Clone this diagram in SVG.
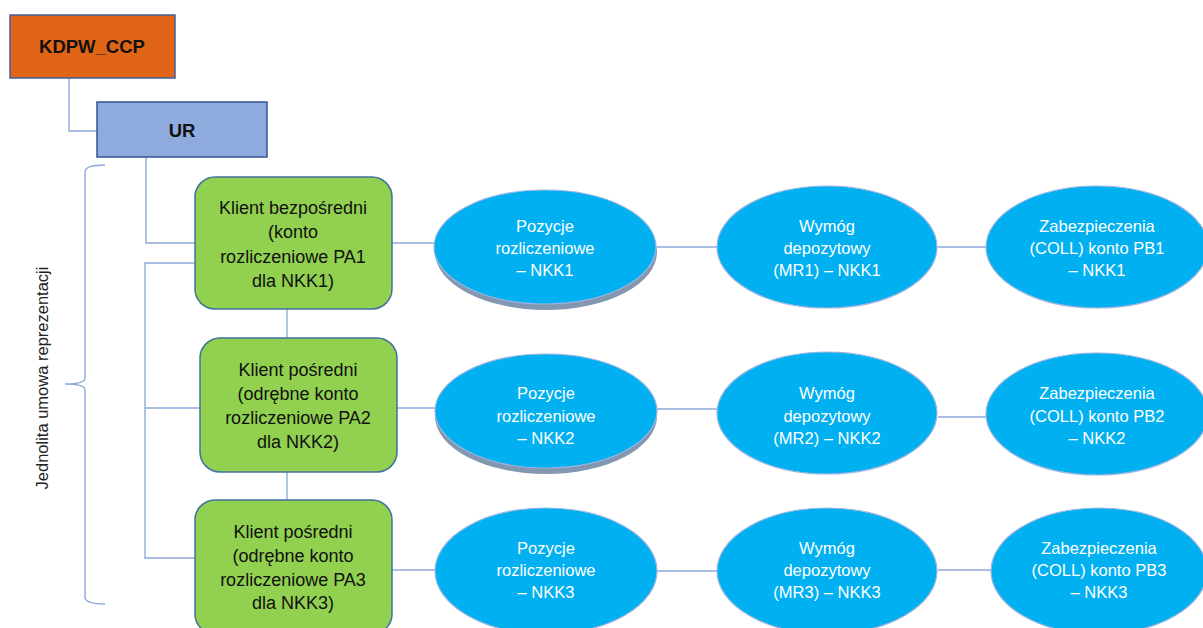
<svg xmlns="http://www.w3.org/2000/svg" width="1203" height="628" viewBox="0 0 1203 628">
<defs>
<style>
.conn{fill:none;stroke:#8FA9DC;stroke-width:1.4}
.rect-top{stroke:#41609A;stroke-width:1.5}
.green{fill:#92D050;stroke:#41719C;stroke-width:1.5}
.ell{fill:#00B0F0;stroke:#9DB4E0;stroke-width:1.2}
.shadow{fill:#8497B0}
.t{font-family:"Liberation Sans",Arial,sans-serif;text-anchor:middle}
.bold{font-weight:bold;font-size:18.5px;fill:#111}
.gt{font-size:18px;fill:#111}
.wt{font-size:16.5px;fill:#fff}
</style>
</defs>
<rect width="1203" height="628" fill="#fff"/>
<g id="connectors">
<path class="conn" d="M69 78 V131 H97"/>
<path class="conn" d="M146 157 V243 H195"/>
<path class="conn" d="M195 263 H145 V558 H195"/>
<path class="conn" d="M145 408 H200"/>
<path class="conn" d="M287 309 V338"/>
<path class="conn" d="M287 472 V500"/>
<path class="conn" d="M392 243 H434"/>
<path class="conn" d="M657 247 H717"/>
<path class="conn" d="M938 247 H986"/>
<path class="conn" d="M397 408 H435"/>
<path class="conn" d="M657 409 H717"/>
<path class="conn" d="M938 417 H986"/>
<path class="conn" d="M392 570 H435"/>
<path class="conn" d="M657 571 H717"/>
<path class="conn" d="M938 570 H991"/>
</g>
<g id="brace">
<path class="conn" d="M105 165 Q85 165 85 172 V378 Q85 384 65 384 Q85 384 85 390 V597 Q85 604 105 604"/>
<text class="t" font-size="16.5" fill="#222" transform="translate(48 378) rotate(-90)">Jednolita umowa reprezentacji</text>
</g>
<g id="kdpw">
<rect class="rect-top" x="10" y="15" width="165" height="63" fill="#E06516"/>
<text class="t bold" x="92" y="53">KDPW_CCP</text>
</g>
<g id="ur">
<rect x="97" y="102" width="170" height="55" fill="#8FAADC" stroke="#2F5597" stroke-width="1.5"/>
<text class="t bold" x="182" y="137">UR</text>
</g>
<g id="klient1">
<rect class="green" x="195" y="177" width="197" height="132" rx="20"/>
<text class="t gt"><tspan x="293" y="214">Klient bezpośredni</tspan><tspan x="293" y="238">(konto</tspan><tspan x="293" y="263">rozliczeniowe PA1</tspan><tspan x="293" y="287">dla NKK1)</tspan></text>
</g>
<g id="klient2">
<rect class="green" x="200" y="338" width="197" height="134" rx="20"/>
<text class="t gt"><tspan x="298" y="376">Klient pośredni</tspan><tspan x="298" y="400">(odrębne konto</tspan><tspan x="298" y="424">rozliczeniowe PA2</tspan><tspan x="298" y="448">dla NKK2)</tspan></text>
</g>
<g id="klient3">
<rect class="green" x="195" y="500" width="197" height="134" rx="20"/>
<text class="t gt"><tspan x="293" y="538">Klient pośredni</tspan><tspan x="293" y="562">(odrębne konto</tspan><tspan x="293" y="586">rozliczeniowe PA3</tspan><tspan x="293" y="609">dla NKK3)</tspan></text>
</g>
<g id="pozycje1">
<ellipse class="shadow" cx="546" cy="252" rx="111" ry="58"/>
<ellipse class="ell" cx="545" cy="247" rx="111" ry="57"/>
<text class="t wt"><tspan x="545" y="232">Pozycje</tspan><tspan x="545" y="254">rozliczeniowe</tspan><tspan x="545" y="276">– NKK1</tspan></text>
</g>
<g id="wymog1">
<ellipse class="ell" cx="827" cy="247" rx="110" ry="61"/>
<text class="t wt"><tspan x="827" y="232">Wymóg</tspan><tspan x="827" y="254">depozytowy</tspan><tspan x="827" y="276">(MR1) – NKK1</tspan></text>
</g>
<g id="zab1">
<ellipse class="ell" cx="1097" cy="247" rx="111" ry="61"/>
<text class="t wt"><tspan x="1097" y="232">Zabezpieczenia</tspan><tspan x="1097" y="254">(COLL) konto PB1</tspan><tspan x="1097" y="276">– NKK1</tspan></text>
</g>
<g id="pozycje2">
<ellipse class="shadow" cx="546" cy="416" rx="111" ry="58"/>
<ellipse class="ell" cx="546" cy="411" rx="111" ry="57"/>
<text class="t wt"><tspan x="546" y="399">Pozycje</tspan><tspan x="546" y="422">rozliczeniowe</tspan><tspan x="546" y="444">– NKK2</tspan></text>
</g>
<g id="wymog2">
<ellipse class="ell" cx="827" cy="413" rx="110" ry="61"/>
<text class="t wt"><tspan x="827" y="399">Wymóg</tspan><tspan x="827" y="422">depozytowy</tspan><tspan x="827" y="444">(MR2) – NKK2</tspan></text>
</g>
<g id="zab2">
<ellipse class="ell" cx="1097" cy="414" rx="111" ry="61"/>
<text class="t wt"><tspan x="1097" y="399">Zabezpieczenia</tspan><tspan x="1097" y="422">(COLL) konto PB2</tspan><tspan x="1097" y="444">– NKK2</tspan></text>
</g>
<g id="pozycje3">
<ellipse class="ell" cx="546" cy="571" rx="111" ry="63"/>
<text class="t wt"><tspan x="546" y="554">Pozycje</tspan><tspan x="546" y="576">rozliczeniowe</tspan><tspan x="546" y="598">– NKK3</tspan></text>
</g>
<g id="wymog3">
<ellipse class="ell" cx="827" cy="571" rx="110" ry="63"/>
<text class="t wt"><tspan x="827" y="554">Wymóg</tspan><tspan x="827" y="576">depozytowy</tspan><tspan x="827" y="598">(MR3) – NKK3</tspan></text>
</g>
<g id="zab3">
<ellipse class="ell" cx="1099" cy="571" rx="108" ry="63"/>
<text class="t wt"><tspan x="1099" y="554">Zabezpieczenia</tspan><tspan x="1099" y="576">(COLL) konto PB3</tspan><tspan x="1099" y="598">– NKK3</tspan></text>
</g>
</svg>
